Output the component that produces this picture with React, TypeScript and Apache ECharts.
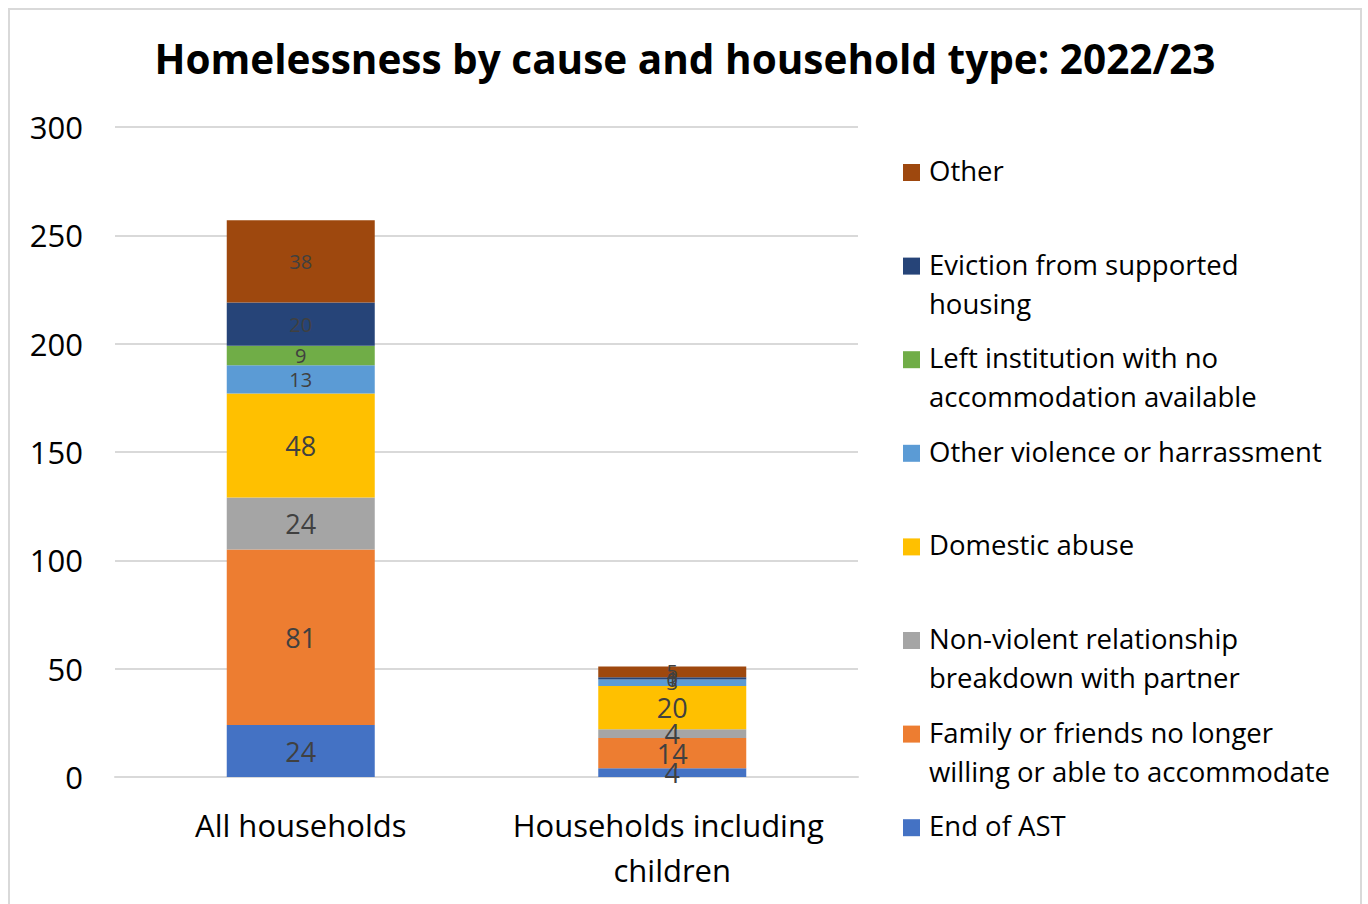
import React, { useEffect, useRef } from "react";
import * as echarts from "echarts";

const categories = ["All households", "Households including children"];
const seriesNames = [
  "End of AST",
  "Family or friends no longer willing or able to accommodate",
  "Non-violent relationship breakdown with partner",
  "Domestic abuse",
  "Other violence or harrassment",
  "Left institution with no accommodation available",
  "Eviction from supported housing",
  "Other",
];
const legendLabels = [
  "End of AST",
  "Family or friends no longer\nwilling or able to accommodate",
  "Non-violent relationship\nbreakdown with partner",
  "Domestic abuse",
  "Other violence or harrassment",
  "Left institution with no\naccommodation available",
  "Eviction from supported\nhousing",
  "Other",
];
const endOfAST = [24, 4];
const familyFriends = [81, 14];
const nonViolent = [24, 4];
const domesticAbuse = [48, 20];
const otherViolence = [13, 3];
const leftInstitution = [9, 0];
const eviction = [20, 1];
const other = [38, 5];
const seriesValues = [endOfAST, familyFriends, nonViolent, domesticAbuse, otherViolence, leftInstitution, eviction, other];
const colors = ["#4472C4", "#ED7D31", "#A5A5A5", "#FFC000", "#5B9BD5", "#70AD47", "#264478", "#9E480E"];
const labelSizes = [27, 27, 27, 27, 20, 20, 20, 20];
const yTicks = [0, 50, 100, 150, 200, 250, 300];

const FONT = "'Open Sans', 'Noto Sans', sans-serif";

export default function App() {
  const ref = useRef<HTMLDivElement>(null);
  useEffect(() => {
    if (!ref.current) return;
    const chart = echarts.init(ref.current, null, { renderer: "svg" });
    const legendGraphics: any[] = [];
    const n = seriesNames.length;
    for (let k = 0; k < n; k++) {
      const idx = n - 1 - k;
      const cy = 162 + k * 93.6;
      legendGraphics.push({
        type: "rect",
        left: 893,
        top: cy - 8,
        shape: { width: 17, height: 17 },
        style: { fill: colors[idx] },
      });
      legendGraphics.push({
        type: "text",
        left: 919,
        top: cy - 21,
        style: {
          text: legendLabels[idx],
          font: `27.5px ${FONT}`,
          fill: "#000000",
          lineHeight: 39,
        },
      });
    }
    chart.setOption({
      animation: false,
      title: {
        text: "Homelessness by cause and household type: 2022/23",
        left: "center",
        top: 23,
        textStyle: { fontFamily: FONT, fontSize: 40.5, fontWeight: "bold", color: "#000000" },
      },
      grid: { left: 105, right: 502, top: 117, bottom: 127, containLabel: false },
      xAxis: {
        type: "category",
        data: categories,
        axisLine: { lineStyle: { color: "#d9d9d9", width: 2 } },
        axisTick: { show: false },
        axisLabel: {
          fontFamily: FONT,
          fontSize: 31,
          color: "#000000",
          margin: 25,
          width: 360,
          overflow: "break",
          lineHeight: 45,
          interval: 0,
        },
      },
      yAxis: {
        type: "value",
        min: 0,
        max: 300,
        interval: 50,
        axisLine: { show: false },
        axisTick: { show: false },
        splitLine: { lineStyle: { color: "#d9d9d9", width: 2 } },
        axisLabel: {
          fontFamily: FONT,
          fontSize: 31,
          color: "#000000",
          margin: 32,
          formatter: (v: number) => (yTicks.includes(v) ? String(v) : ""),
        },
      },
      series: seriesNames.map((name, i) => ({
        name,
        type: "bar",
        stack: "total",
        barWidth: 148,
        data: seriesValues[i],
        itemStyle: { color: colors[i] },
        label: {
          show: true,
          position: "inside",
          color: "#404040",
          fontFamily: FONT,
          fontSize: labelSizes[i],
        },
      })),
      graphic: legendGraphics,
    });
    return () => chart.dispose();
  }, []);
  return (
    <div
      style={{
        position: "absolute",
        left: 8,
        top: 8,
        width: 1354,
        height: 896,
        boxSizing: "border-box",
        borderTop: "2px solid #d9d9d9",
        borderLeft: "2px solid #d9d9d9",
        borderRight: "2px solid #d9d9d9",
        background: "#ffffff",
      }}
    >
      <div ref={ref} style={{ width: 1350, height: 894 }} />
    </div>
  );
}
